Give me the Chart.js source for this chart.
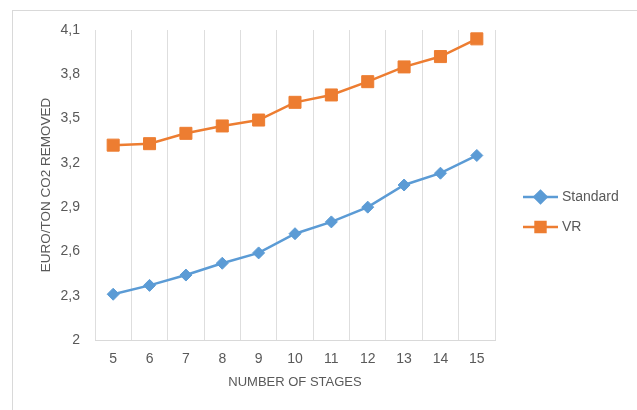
<!DOCTYPE html>
<html>
<head>
<meta charset="utf-8">
<script src="https://cdn.jsdelivr.net/npm/chart.js@4/dist/chart.umd.min.js"></script>
<style>
html,body{margin:0;padding:0;background:#fff;overflow:hidden}
#frame{position:absolute;left:12px;top:10px;width:800px;height:600px;border-left:1px solid #d9d9d9;border-top:1px solid #d9d9d9}
#wrap{position:absolute;left:0;top:0;width:637px;height:410px}
</style>
</head>
<body>
<div id="frame"></div>
<div id="wrap"><canvas id="chartStagesHTML" width="637" height="410"></canvas></div>
<script>
// values
const stages = ['5','6','7','8','9','10','11','12','13','14','15'];
const standardCost = [2.31,2.37,2.44,2.52,2.59,2.72,2.80,2.90,3.05,3.13,3.25];
const vrCost = [3.32,3.33,3.40,3.45,3.49,3.61,3.66,3.75,3.85,3.92,4.04];
const yTicks = [2,2.3,2.6,2.9,3.2,3.5,3.8,4.1];

const textGrey = '#595959';
const blue = '#5b9bd5';
const orange = '#ed7d31';
const fontFam = '"Liberation Sans", Arial, sans-serif';

// legend drawn at the right like the excel one: line with marker in it
const sideLegendPlugin = {
  id: 'sideLegend',
  afterDraw(chart){
    const ctx = chart.ctx;
    const x0 = 523, x1 = 558;
    const rows = [197, 227];
    const legendRadius = [6, 7];
    chart.data.datasets.forEach((ds, i) => {
      const y = rows[i];
      ctx.save();
      ctx.strokeStyle = ds.borderColor;
      ctx.lineWidth = ds.borderWidth;
      ctx.beginPath();
      ctx.moveTo(x0, y);
      ctx.lineTo(x1, y);
      ctx.stroke();
      ctx.fillStyle = ds.pointBackgroundColor;
      ctx.strokeStyle = ds.pointBorderColor;
      Chart.helpers.drawPoint(ctx, {pointStyle: ds.pointStyle, radius: legendRadius[i], rotation: 0, borderWidth: 1}, (x0 + x1) / 2, y);
      ctx.fillStyle = textGrey;
      ctx.font = '14px ' + fontFam;
      ctx.textBaseline = 'middle';
      ctx.textAlign = 'left';
      ctx.fillText(ds.label, x1 + 4, y);
      ctx.restore();
    });
  }
};

let chartStages = new Chart(
  document.getElementById('chartStagesHTML'),
  {
    type: 'line',
    data: {
      labels: stages,
      datasets: [
        {
          label: 'Standard',
          data: standardCost,
          borderColor: blue,
          borderWidth: 2.5,
          pointStyle: 'rectRot',
          pointRadius: 6,
          pointBackgroundColor: blue,
          pointBorderColor: blue,
          pointBorderWidth: 1,
          tension: 0
        },
        {
          label: 'VR',
          data: vrCost,
          borderColor: orange,
          borderWidth: 2.5,
          pointStyle: 'rect',
          pointRadius: 8.5,
          pointBackgroundColor: orange,
          pointBorderColor: orange,
          pointBorderWidth: 1,
          tension: 0
        }
      ]
    },
    options: {
      responsive: false,
      animation: false,
      layout: {padding: {left: 38, right: 142, top: 30, bottom: 0}},
      plugins: {
        legend: {display: false},
        tooltip: {enabled: false}
      },
      scales: {
        x: {
          offset: true,
          grid: {display: true, color: '#dedede', offset: true, drawTicks: false, lineWidth: 1},
          border: {display: true, color: '#d9d9d9'},
          ticks: {color: textGrey, padding: 11, font: {family: fontFam, size: 14}},
          title: {display: true, text: 'NUMBER OF STAGES', color: textGrey, padding: {top: 0, bottom: 20},
                  font: {family: fontFam, size: 13}},
          afterFit: s => { s.height = 70; }
        },
        y: {
          min: 2,
          max: 4.1,
          afterBuildTicks: s => { s.ticks = yTicks.map(v => ({value: v})); },
          grid: {display: false, drawTicks: false},
          border: {display: false},
          ticks: {
            color: textGrey, padding: 15,
            font: {family: fontFam, size: 14},
            callback: v => String(Number(v.toFixed(1))).replace('.', ',')
          },
          title: {display: true, text: 'EURO/TON CO2 REMOVED', color: textGrey, padding: {top: 0, bottom: 0},
                  font: {family: fontFam, size: 13.5}},
          afterFit: s => { s.width = 57; }
        }
      }
    },
    plugins: [sideLegendPlugin]
  }
);
</script>
</body>
</html>
